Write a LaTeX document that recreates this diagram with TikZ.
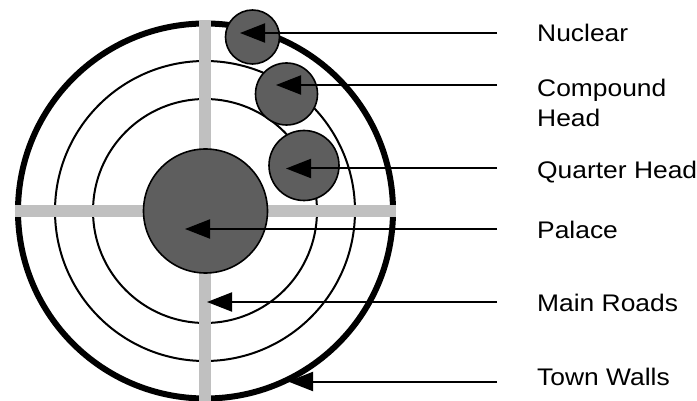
\documentclass[tikz,border=0pt]{standalone}
\usepackage{fontspec}
\newfontfamily\labfont[FakeStretch=1.1]{Liberation Sans}
\usetikzlibrary{arrows.meta}
\definecolor{housefill}{HTML}{5E5E5E}
\definecolor{roadgray}{HTML}{C0C0C0}
\begin{document}
\begin{tikzpicture}[x=1pt,y=-1pt,
  ring/.style={circle,draw=black,inner sep=0pt,outer sep=0pt,line width=2pt},
  wall/.style={circle,draw=black,inner sep=0pt,outer sep=0pt,line width=6pt},
  road/.style={draw=roadgray,line width=12pt},
  house/.style={circle,draw=black,fill=housefill,inner sep=0pt,outer sep=0pt,line width=1.6pt},
  arr/.style={line width=2pt,-{Triangle[length=25pt,width=19pt]}},
  lab/.style={anchor=base west,inner sep=0pt,font=\labfont\fontsize{24}{30}\selectfont},
  labml/.style={anchor=north west,inner sep=0pt,align=left,font=\labfont\fontsize{24}{29.5}\selectfont}]
\useasboundingbox (0,0) rectangle (697,401);
% rings
\node[wall,minimum size=375pt] (townwall) at (205.5,211) {};
\node[ring,minimum size=300pt] (ringB) at (205,211) {};
\node[ring,minimum size=224pt] (ringA) at (205,211) {};
% roads
\coordinate (rw) at (15,211);
\coordinate (re) at (396,211);
\coordinate (rn) at (205,20);
\coordinate (rs) at (205,402);
\draw[road] (rw) -- (re);
\draw[road] (rn) -- (rs);
% palace and heads
\node[house,minimum size=124pt] (palace) at (205.5,211) {};
\node[house,minimum size=54pt] (nuclear) at (252.5,37) {};
\node[house,minimum size=62pt] (compound) at (286.5,94) {};
\node[house,minimum size=70pt] (quarter) at (304,165.5) {};
% labels
\node[lab] (lnuc) at (537,42) {Nuclear};
\node[labml] (lcomp) at (537,79) {Compound\\Head};
\node[lab] (lquar) at (537,179) {Quarter Head};
\node[lab] (lpal) at (537,239) {Palace};
\node[lab] (lroad) at (537,312) {Main Roads};
\node[lab] (lwall) at (537,385) {Town Walls};
% connector ends
\coordinate (snuc) at (497,33);
\coordinate (scomp) at (497,85);
\coordinate (squar) at (497,168.5);
\coordinate (spal) at (497,229);
\coordinate (sroad) at (497,302);
\coordinate (swall) at (497,381.5);
\coordinate (tnuc) at (240,33);
\coordinate (tcomp) at (276,85);
\coordinate (tquar) at (286,168.5);
\coordinate (tpal) at (185,229);
\coordinate (troad) at (207,302);
\coordinate (twall) at (288,381.5);
\draw[arr] (snuc) -- (tnuc);
\draw[arr] (scomp) -- (tcomp);
\draw[arr] (squar) -- (tquar);
\draw[arr] (spal) -- (tpal);
\draw[arr] (sroad) -- (troad);
\draw[arr] (swall) -- (twall);
\end{tikzpicture}
\end{document}
